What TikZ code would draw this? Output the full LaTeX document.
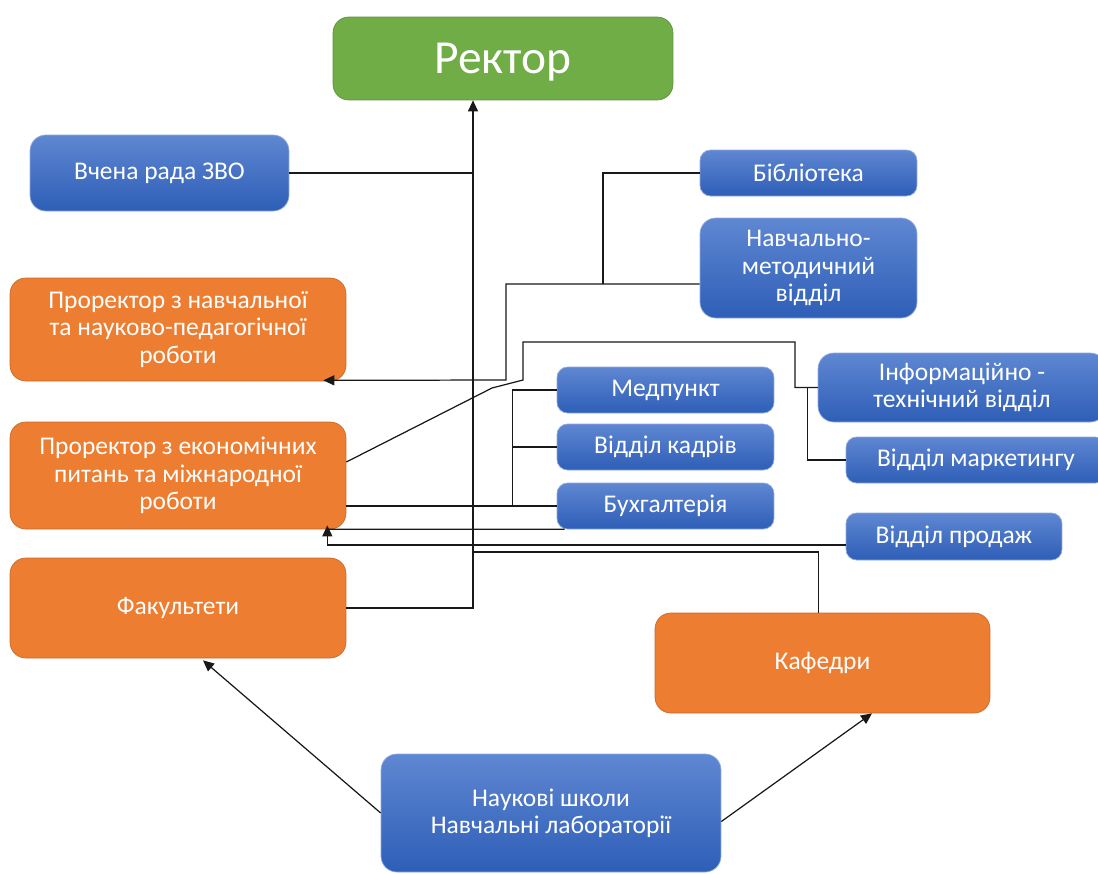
\documentclass[tikz,border=0pt]{standalone}
\usepackage{fontspec}
\setmainfont{Carlito}
\usetikzlibrary{calc,arrows.meta}
\definecolor{rectgreen}{RGB}{112,173,71}
\definecolor{orgfill}{RGB}{237,125,49}
\definecolor{bluetop}{RGB}{95,135,210}
\definecolor{bluebot}{RGB}{46,94,183}
\tikzset{
box/.style={rounded corners=6pt,align=center,text=white,inner sep=2pt,font=\fontsize{14.5}{15.5}\selectfont},
headbox/.style={box,fill=rectgreen,draw=rectgreen!85!black,line width=0.4pt,rounded corners=9pt,text depth=0pt,font=\fontsize{27}{30}\selectfont},
bluebox/.style={box,top color=bluetop,bottom color=bluebot,draw=bluetop!70!white,line width=0.4pt},
bigblue/.style={bluebox,rounded corners=9pt},
orangebox/.style={box,fill=orgfill,draw=orgfill!85!black,line width=0.4pt,rounded corners=9pt},
link/.style={draw=black!90,line width=0.7pt},
linkarrow/.style={link,-{Triangle[length=2.2mm,width=2mm]}}
}

\begin{document}
\begin{tikzpicture}[x=0.02cm,y=-0.02cm]
\useasboundingbox (0,0) rectangle (1098,873);
% boxes
\node[headbox,minimum width=6.8cm,minimum height=1.66cm] (rector) at (503,58.5) {Ректор};
\node[bigblue,minimum width=5.18cm,minimum height=1.52cm] (vchena) at (159.5,173) {Вчена рада ЗВО};
\node[orangebox,minimum width=6.72cm,minimum height=2.06cm] (pr1) at (178,329.5) {Проректор з навчальної\\та науково-педагогічної\\роботи};
\node[orangebox,minimum width=6.72cm,minimum height=2.14cm] (pr2) at (178,475.5) {Проректор з економічних\\питань та міжнародної\\роботи};
\node[orangebox,minimum width=6.72cm,minimum height=2.0cm] (fac) at (178,608) {Факультети};
\node[orangebox,minimum width=6.7cm,minimum height=2.0cm] (kaf) at (822.5,663) {Кафедри};
\node[bigblue,minimum width=6.8cm,minimum height=2.36cm] (nauk) at (551,813) {Наукові школи\\Навчальні лабораторії};
\node[bluebox,minimum width=4.34cm,minimum height=0.92cm] (bib) at (808.5,173) {Бібліотека};
\node[bigblue,minimum width=4.34cm,minimum height=2.0cm] (nmv) at (808.5,268) {Навчально-\\методичний\\відділ};
\node[bluebox,minimum width=4.34cm,minimum height=0.92cm] (med) at (665.5,390) {Медпункт};
\node[bluebox,minimum width=4.34cm,minimum height=0.92cm] (kadr) at (665.5,447) {Відділ кадрів};
\node[bluebox,minimum width=4.34cm,minimum height=0.92cm] (buh) at (665.5,506) {Бухгалтерія};
\node[bigblue,minimum width=5.76cm,minimum height=1.38cm] (info) at (962,387.5) {Інформаційно -\\технічний відділ};
\node[bluebox,minimum width=5.2cm,minimum height=0.92cm] (mark) at (976,460) {Відділ маркетингу};
\node[bluebox,minimum width=4.32cm,minimum height=0.94cm] (prod) at (954,536.5) {Відділ продаж};
\coordinate (spine) at (473,0);
% links
\draw[linkarrow] (fac.east) -| (rector.south -| spine);
\draw[link] (vchena.east) -- (vchena.east -| spine);
\draw[link] ($(pr1.east)+(0,12)$) -- ($(pr1.east)+(0,12)$ -| spine);
\draw[link] ($(pr2.east)+(0,7.5)$) -- ($(pr2.east)+(0,7.5)$ -| spine);
\draw[link] (pr2.east |- buh.west) -- (buh.west);
\draw[link] (med.west) -- ++(-44,0) |- (buh.west);
\draw[link] (kadr.west) -- ++(-44,0);
\draw[link] (bib.west) -| (603,284);
\draw[linkarrow] ($(nmv.west)+(0,16)$) -| (506,380) -- ($(pr1.south east)+(-23,-1)$);
\draw[link] ($(pr2.east)+(0,-13.5)$) -- (492,388) -- (523,380) |- (795,342) |- (info.west);
\draw[link] (info.west) -- ++(-10,0) |- (mark.west);
\draw[linkarrow] ($(prod.west)+(0,8.5)$) -| ($(pr2.south east)+(-19,-4)$);
\draw[link] ($(buh.south west)+(8,0)$) -- ($(pr2.south east)+(-19,0)$);
\draw[link] ($(kaf.north)+(-4,0)$) |- (spine |- 0,552);
\draw[linkarrow] (nauk.west) -- ($(fac.south)+(25,2)$);
\draw[linkarrow] ($(nauk.east)+(0,8.5)$) -- ($(kaf.south)+(49.5,0)$);
\end{tikzpicture}
\end{document}
